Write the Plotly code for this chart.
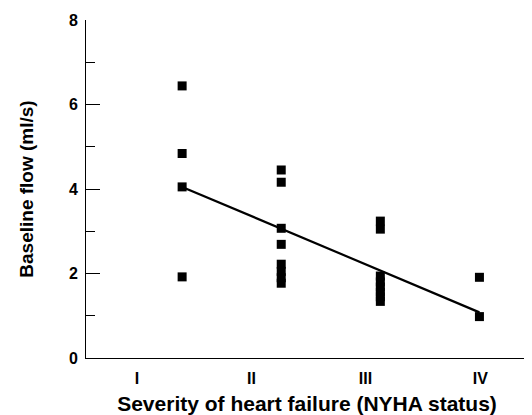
import plotly.graph_objects as go

# Data
class_pos = [1, 2, 3, 4]
flow_I = [6.44, 4.84, 4.05, 1.92]
flow_II = [4.45, 4.16, 3.07, 2.69, 2.22, 2.05, 1.9, 1.77]
flow_III = [3.24, 3.05, 1.94, 1.8, 1.68, 1.56, 1.45, 1.34]
flow_IV = [1.91, 0.98]
fit_x = [1, 4]
fit_y = [4.05, 1.08]

tick_pos = [0.545, 1.70, 2.85, 4.01]
tick_text = ["I", "II", "III", "IV"]

xs, ys = [], []
for p, vals in zip(class_pos, [flow_I, flow_II, flow_III, flow_IV]):
    xs += [p] * len(vals)
    ys += vals

fig = go.Figure()
fig.add_trace(go.Scatter(x=fit_x, y=fit_y, mode="lines",
                         line=dict(color="black", width=2.2), showlegend=False))
fig.add_trace(go.Scatter(x=xs, y=ys, mode="markers",
                         marker=dict(symbol="square", size=9, color="black"),
                         showlegend=False))

font = "Liberation Sans"
# page body has an 8px margin, so the figure is sized/offset to compensate
fig.update_layout(
    width=524, height=407,
    margin=dict(l=78, r=4, t=12, b=57),
    plot_bgcolor="white", paper_bgcolor="white",
    font=dict(family=font, color="black"),
    xaxis=dict(range=[0.03, 4.49], showgrid=False, zeroline=False,
               showline=True, linecolor="black", linewidth=1,
               tickvals=tick_pos, ticktext=tick_text, ticks="",
               automargin=False,
               tickfont=dict(size=16, family=font, weight="bold"),
               ticklabelstandoff=6,
               title=dict(text="Severity of heart failure (NYHA status)",
                          font=dict(size=21, family=font, weight="bold"),
                          standoff=14)),
    yaxis=dict(range=[0, 8], showgrid=False, zeroline=False,
               showline=True, linecolor="black", linewidth=1,
               automargin=False,
               tickvals=[0, 2, 4, 6, 8], ticks="inside", ticklen=14,
               tickcolor="black", tickwidth=1,
               minor=dict(ticks="inside", ticklen=9, tickvals=[1, 3, 5, 7],
                          tickcolor="black", tickwidth=1),
               tickfont=dict(size=16, family=font, weight="bold"),
               ticklabelstandoff=4,
               title=dict(text="Baseline flow (ml/s)",
                          font=dict(size=19, family=font, weight="bold"),
                          standoff=30)),
)
fig.write_html("out.html")
